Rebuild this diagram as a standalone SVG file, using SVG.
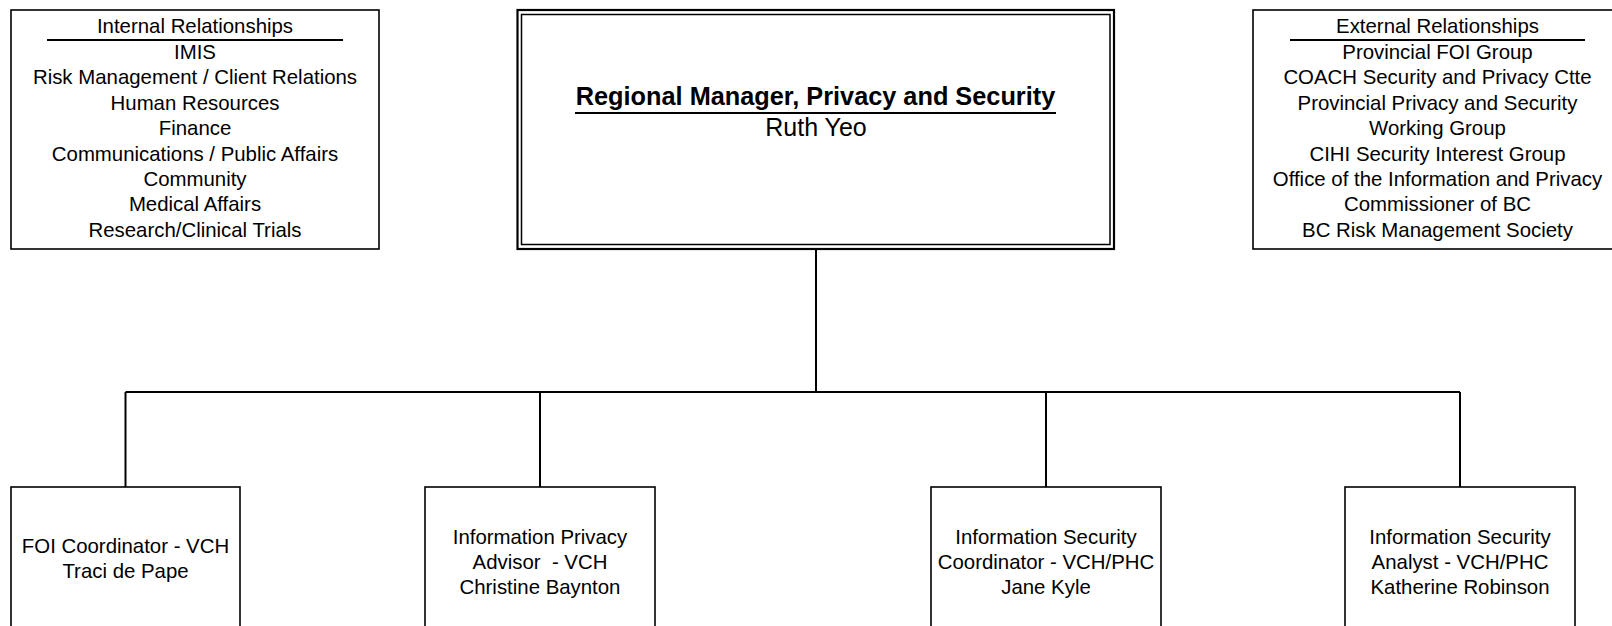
<svg xmlns="http://www.w3.org/2000/svg" width="1612" height="626" viewBox="0 0 1612 626">
<style>
  .box { fill: #ffffff; stroke: #000000; stroke-width: 1.6; }
  .t { font-family: "Liberation Sans", Arial, sans-serif; font-size: 20.4px; fill: #000000; text-anchor: middle; white-space: pre; }
  .title { font-family: "Liberation Sans", Arial, sans-serif; font-size: 25.3px; font-weight: bold; fill: #000000; text-anchor: middle; }
  .name { font-family: "Liberation Sans", Arial, sans-serif; font-size: 25px; fill: #000000; text-anchor: middle; }
  .rule { stroke: #000000; stroke-width: 1.8; }
  .conn { stroke: #000000; stroke-width: 2; fill: none; }
</style>
<rect width="1612" height="626" fill="#ffffff"/>

<g id="connectors">
  <line class="conn" x1="816" y1="249" x2="816" y2="392"/>
  <line class="conn" x1="125.5" y1="392" x2="1460" y2="392"/>
  <line class="conn" x1="125.5" y1="392" x2="125.5" y2="487"/>
  <line class="conn" x1="540" y1="392" x2="540" y2="487"/>
  <line class="conn" x1="1046" y1="392" x2="1046" y2="487"/>
  <line class="conn" x1="1460" y1="392" x2="1460" y2="487"/>
</g>

<g id="internal">
  <rect class="box" x="11" y="10" width="368" height="239"/>
  <text class="t" x="195" y="33">Internal Relationships</text>
  <line class="rule" x1="47" y1="40" x2="343" y2="40"/>
  <text class="t" x="195" y="59">IMIS</text>
  <text class="t" x="195" y="84.4">Risk Management / Client Relations</text>
  <text class="t" x="195" y="109.8">Human Resources</text>
  <text class="t" x="195" y="135.2">Finance</text>
  <text class="t" x="195" y="160.6">Communications / Public Affairs</text>
  <text class="t" x="195" y="186">Community</text>
  <text class="t" x="195" y="211.4">Medical Affairs</text>
  <text class="t" x="195" y="236.8">Research/Clinical Trials</text>
</g>

<g id="manager">
  <rect x="517.5" y="10" width="596.5" height="239" fill="#ffffff" stroke="#000000" stroke-width="2.2"/>
  <rect x="521.5" y="14.5" width="588.5" height="230" fill="none" stroke="#000000" stroke-width="1.5"/>
  <text class="title" x="815.5" y="105">Regional Manager, Privacy and Security</text>
  <line class="rule" x1="575" y1="113" x2="1056" y2="113"/>
  <text class="name" x="816" y="136">Ruth Yeo</text>
</g>

<g id="external">
  <rect class="box" x="1253" y="10" width="369" height="239"/>
  <text class="t" x="1437.5" y="33">External Relationships</text>
  <line class="rule" x1="1290" y1="40" x2="1585" y2="40"/>
  <text class="t" x="1437.5" y="59">Provincial FOI Group</text>
  <text class="t" x="1437.5" y="84.4">COACH Security and Privacy Ctte</text>
  <text class="t" x="1437.5" y="109.8">Provincial Privacy and Security</text>
  <text class="t" x="1437.5" y="135.2">Working Group</text>
  <text class="t" x="1437.5" y="160.6">CIHI Security Interest Group</text>
  <text class="t" x="1437.5" y="186">Office of the Information and Privacy</text>
  <text class="t" x="1437.5" y="211.4">Commissioner of BC</text>
  <text class="t" x="1437.5" y="236.8">BC Risk Management Society</text>
</g>

<g id="foi">
  <rect class="box" x="11" y="487" width="229" height="160"/>
  <text class="t" x="125.5" y="553">FOI Coordinator - VCH</text>
  <text class="t" x="125.5" y="578">Traci de Pape</text>
</g>

<g id="privacy-advisor">
  <rect class="box" x="425" y="487" width="230" height="160"/>
  <text class="t" x="540" y="544">Information Privacy</text>
  <text class="t" x="540" y="569">Advisor  - VCH</text>
  <text class="t" x="540" y="594">Christine Baynton</text>
</g>

<g id="security-coordinator">
  <rect class="box" x="931" y="487" width="230" height="160"/>
  <text class="t" x="1046" y="544">Information Security</text>
  <text class="t" x="1046" y="569">Coordinator - VCH/PHC</text>
  <text class="t" x="1046" y="594">Jane Kyle</text>
</g>

<g id="security-analyst">
  <rect class="box" x="1345" y="487" width="230" height="160"/>
  <text class="t" x="1460" y="544">Information Security</text>
  <text class="t" x="1460" y="569">Analyst - VCH/PHC</text>
  <text class="t" x="1460" y="594">Katherine Robinson</text>
</g>
</svg>
